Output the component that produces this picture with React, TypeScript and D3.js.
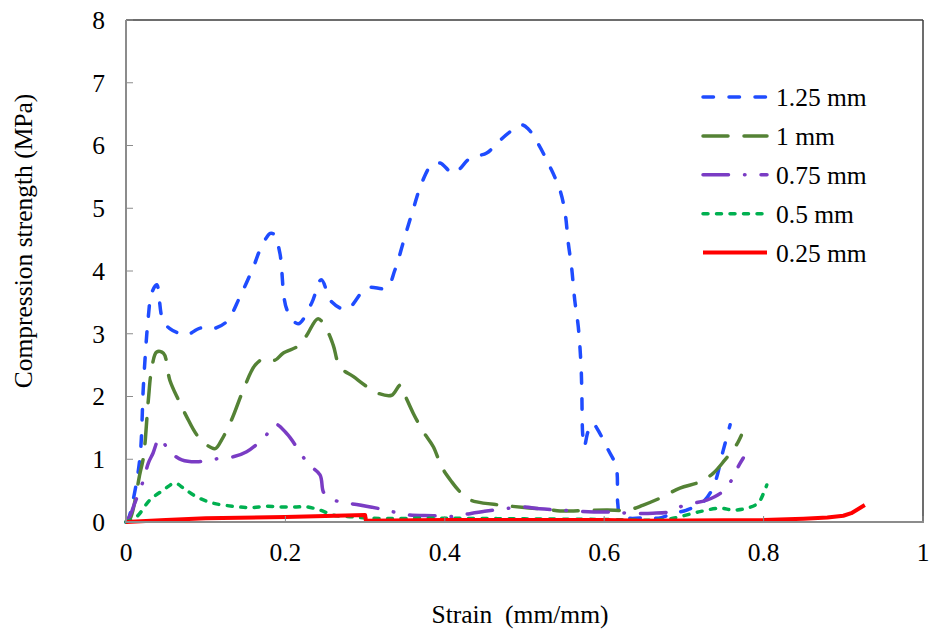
import React, { useEffect, useRef } from 'react';
import * as d3 from 'd3';

// strain (mm/mm), stress (MPa)
const s125: [number, number][] = [
  [0, 0], [0.003, 0.05], [0.009, 0.35], [0.0176, 1.04], [0.022, 2.21], [0.028, 3.27], [0.032, 3.64],
  [0.0385, 3.78], [0.046, 3.22], [0.055, 3.08], [0.064, 3.02], [0.076, 2.98], [0.093, 3.09],
  [0.109, 3.08], [0.126, 3.19], [0.143, 3.59], [0.16, 4.07], [0.168, 4.33], [0.181, 4.6],
  [0.186, 4.58], [0.193, 4.29], [0.202, 3.38], [0.216, 3.16], [0.233, 3.49], [0.245, 3.86],
  [0.258, 3.51], [0.277, 3.39], [0.302, 3.73], [0.327, 3.73], [0.3375, 4.02], [0.35, 4.55],
  [0.36, 4.97], [0.371, 5.4], [0.3835, 5.69], [0.394, 5.72], [0.411, 5.56], [0.432, 5.8],
  [0.4526, 5.88], [0.465, 6.03], [0.482, 6.22], [0.4965, 6.33], [0.505, 6.26], [0.517, 6.03],
  [0.532, 5.66], [0.5445, 5.29], [0.551, 4.92], [0.555, 4.44], [0.559, 4.07], [0.563, 3.54],
  [0.5675, 3.11], [0.571, 2.47], [0.572, 2.0], [0.573, 1.4], [0.575, 1.2], [0.58, 1.45],
  [0.586, 1.57], [0.591, 1.49], [0.605, 1.15], [0.615, 0.88], [0.617, 0.3], [0.62, 0.11],
  [0.632, 0.06], [0.657, 0.075], [0.668, 0.06], [0.687, 0.14], [0.7035, 0.19], [0.724, 0.32],
  [0.737, 0.56], [0.7495, 1.15], [0.758, 1.55],
];

const s100: [number, number][] = [
  [0, 0], [0.005, 0.05], [0.0176, 0.78], [0.022, 1.04], [0.028, 1.94], [0.032, 2.42],
  [0.0385, 2.71], [0.047, 2.69], [0.055, 2.26], [0.066, 1.94], [0.076, 1.68], [0.0887, 1.39],
  [0.101, 1.23], [0.112, 1.17], [0.12, 1.31], [0.1325, 1.63], [0.147, 2.1], [0.162, 2.5],
  [0.174, 2.61], [0.187, 2.58], [0.197, 2.69], [0.218, 2.82], [0.227, 2.98], [0.241, 3.24],
  [0.252, 3.06], [0.26, 2.82], [0.2685, 2.47], [0.285, 2.32], [0.302, 2.16], [0.3166, 2.05],
  [0.3333, 2.02], [0.344, 2.18], [0.35, 2.02], [0.3605, 1.73], [0.373, 1.44], [0.3856, 1.2],
  [0.396, 0.88], [0.4087, 0.64], [0.419, 0.48], [0.4275, 0.38], [0.44, 0.32], [0.47, 0.27],
  [0.5, 0.23], [0.53, 0.2], [0.5445, 0.175], [0.57, 0.18], [0.603, 0.19], [0.63, 0.19],
  [0.649, 0.27], [0.67, 0.38], [0.695, 0.54], [0.72, 0.64], [0.737, 0.78], [0.7515, 0.99],
  [0.758, 1.09], [0.766, 1.23], [0.772, 1.38],
];

const s075: [number, number][] = [
  [0, 0], [0.005, 0.1], [0.011, 0.3], [0.022, 0.67], [0.028, 0.94], [0.034, 1.1], [0.0405, 1.31],
  [0.0447, 1.33], [0.049, 1.23], [0.055, 1.12], [0.07, 0.99], [0.089, 0.96], [0.1095, 1.0],
  [0.1346, 1.04], [0.1514, 1.12], [0.1744, 1.36], [0.187, 1.56], [0.2016, 1.41], [0.218, 1.12],
  [0.2288, 0.92], [0.2434, 0.75], [0.2476, 0.48], [0.2538, 0.39], [0.2717, 0.31], [0.2894, 0.28],
  [0.3187, 0.21], [0.3375, 0.155], [0.356, 0.11], [0.3856, 0.1], [0.4065, 0.085], [0.42, 0.11],
  [0.45, 0.17], [0.48, 0.22], [0.5, 0.24], [0.519, 0.21], [0.5445, 0.19], [0.58, 0.165],
  [0.6135, 0.155], [0.632, 0.14], [0.661, 0.14], [0.6826, 0.165], [0.699, 0.26], [0.7286, 0.35],
  [0.747, 0.47], [0.76, 0.67], [0.768, 0.88], [0.7745, 1.02],
];

const s050: [number, number][] = [
  [0, 0], [0.0134, 0.085], [0.03, 0.35], [0.047, 0.51], [0.0615, 0.62], [0.072, 0.54],
  [0.0887, 0.4], [0.1095, 0.3], [0.1346, 0.25], [0.156, 0.23], [0.1765, 0.25], [0.197, 0.24],
  [0.214, 0.24], [0.227, 0.24], [0.2434, 0.19], [0.26, 0.11], [0.281, 0.085], [0.31, 0.06],
  [0.4, 0.06], [0.5, 0.05], [0.6, 0.04], [0.66, 0.03], [0.678, 0.04], [0.695, 0.085],
  [0.72, 0.165], [0.745, 0.22], [0.762, 0.19], [0.779, 0.22], [0.793, 0.3], [0.8, 0.46],
  [0.804, 0.59],
];

const s025: [number, number][] = [
  [0, 0], [0.05, 0.03], [0.1, 0.06], [0.2, 0.08], [0.3, 0.11], [0.301, 0.02], [0.4, 0.03],
  [0.5, 0.03], [0.6, 0.03], [0.65, 0.02], [0.8, 0.03], [0.85, 0.05], [0.88, 0.07], [0.9, 0.1],
  [0.91, 0.14], [0.927, 0.27],
];

const seriesNames = ['1.25 mm', '1 mm', '0.75 mm', '0.5 mm', '0.25 mm'];
const seriesData = [s125, s100, s075, s050, s025];
const seriesColors = ['#1f4cff', '#548235', '#7a3cc4', '#00b050', '#ff0000'];
const seriesDash = ['10.5 15.5', '25 16', '25.5 16 0.5 16', '5 8.5', null];

const xTicks = [0, 0.2, 0.4, 0.6, 0.8, 1];
const yTicks = [0, 1, 2, 3, 4, 5, 6, 7, 8];

const W = 929, H = 633;
const margin = { top: 20, right: 6, bottom: 111, left: 126 };
const font = '"Liberation Serif", "Times New Roman", serif';
const fs = 25.5;

export default function App() {
  const ref = useRef<SVGSVGElement>(null);

  useEffect(() => {
    const svg = d3.select(ref.current);
    svg.selectAll('*').remove();

    const x = d3.scaleLinear().domain([0, 1]).range([margin.left, W - margin.right]);
    const y = d3.scaleLinear().domain([0, 8]).range([H - margin.bottom, margin.top]);

    // frame: top + right dark, left + bottom gray
    svg.append('line')
      .attr('x1', x(0)).attr('x2', x(1)).attr('y1', y(8)).attr('y2', y(8))
      .attr('stroke', '#3c3c3c').attr('stroke-width', 1.5);
    svg.append('line')
      .attr('x1', x(1)).attr('x2', x(1)).attr('y1', y(8)).attr('y2', y(0))
      .attr('stroke', '#3c3c3c').attr('stroke-width', 1.5);

    const line = d3.line<[number, number]>()
      .x(d => x(d[0]))
      .y(d => y(d[1]))
      .curve(d3.curveCatmullRom.alpha(0.5));

    const lineStraight = d3.line<[number, number]>()
      .x(d => x(d[0]))
      .y(d => y(d[1]));

    seriesData.forEach((data, i) => {
      const path = svg.append('path')
        .attr('d', i === 4 ? lineStraight(data) : line(data))
        .attr('fill', 'none')
        .attr('stroke', seriesColors[i])
        .attr('stroke-width', i === 4 ? 4 : 3.5)
        .attr('stroke-linecap', i === 4 ? 'butt' : 'round')
        .attr('stroke-linejoin', 'round');
      if (seriesDash[i]) path.attr('stroke-dasharray', seriesDash[i]);
    });

    // axes
    const axisColor = '#8c8c8c';
    svg.append('line')
      .attr('x1', x(0)).attr('x2', x(0)).attr('y1', y(8)).attr('y2', y(0) + 1)
      .attr('stroke', axisColor).attr('stroke-width', 2);
    svg.append('line')
      .attr('x1', x(0) - 1).attr('x2', x(1) + 1).attr('y1', y(0)).attr('y2', y(0))
      .attr('stroke', axisColor).attr('stroke-width', 2);

    svg.selectAll('.ytick').data(yTicks).enter().append('line')
      .attr('x1', x(0)).attr('x2', x(0) + 7)
      .attr('y1', d => y(d)).attr('y2', d => y(d))
      .attr('stroke', axisColor).attr('stroke-width', 1);
    svg.selectAll('.xtick').data(xTicks).enter().append('line')
      .attr('x1', d => x(d)).attr('x2', d => x(d))
      .attr('y1', y(0)).attr('y2', y(0) - 6)
      .attr('stroke', axisColor).attr('stroke-width', 1);

    svg.selectAll('.ylab').data(yTicks).enter().append('text')
      .attr('x', x(0) - 21).attr('y', d => y(d)).attr('dy', '0.35em')
      .attr('text-anchor', 'end')
      .attr('font-size', fs)
      .text(d => d);
    svg.selectAll('.xlab').data(xTicks).enter().append('text')
      .attr('x', d => x(d)).attr('y', y(0) + 30).attr('dy', '0.35em')
      .attr('text-anchor', 'middle')
      .attr('font-size', fs)
      .text(d => d);

    svg.append('text')
      .attr('transform', 'translate(32,241) rotate(-90)')
      .attr('text-anchor', 'middle')
      .attr('font-size', fs)
      .text('Compression strength (MPa)');
    svg.append('text')
      .attr('x', 520).attr('y', 614).attr('dy', '0.35em')
      .attr('text-anchor', 'middle')
      .attr('font-size', fs)
      .style('white-space', 'pre')
      .text('Strain  (mm/mm)');

    // legend
    const lg = svg.append('g').attr('transform', 'translate(701,97)');
    seriesNames.forEach((name, i) => {
      const row = lg.append('g').attr('transform', `translate(0,${i * 38.9})`);
      const l = row.append('line')
        .attr('x1', 2).attr('x2', 66).attr('y1', 0).attr('y2', 0)
        .attr('stroke', seriesColors[i])
        .attr('stroke-width', i === 4 ? 4 : 3.5)
        .attr('stroke-linecap', i === 4 ? 'butt' : 'round');
      if (seriesDash[i]) l.attr('stroke-dasharray', seriesDash[i]);
      row.append('text')
        .attr('x', 75).attr('y', 0).attr('dy', '0.35em')
        .attr('font-size', fs)
        .text(name);
    });
  }, []);

  return (
    <svg ref={ref} width={W} height={H}
      style={{ position: 'absolute', left: 0, top: 0, background: '#fff', fontFamily: font }} />
  );
}
